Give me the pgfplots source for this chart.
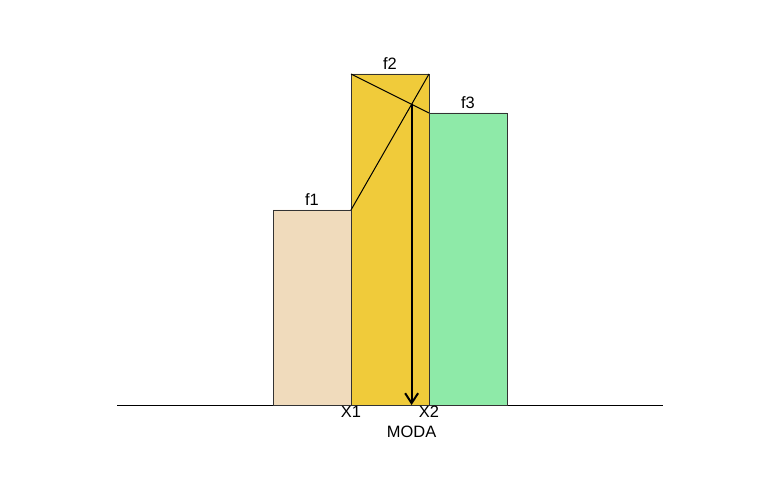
\documentclass[border=0pt]{standalone}
\usepackage{pgfplots}
\pgfplotsset{compat=1.18}
\usepackage{fontspec}
\setmainfont{Liberation Sans}
\usetikzlibrary{arrows.meta}
\definecolor{cf1}{HTML}{F0DBBC}
\definecolor{cf2}{HTML}{F0CB3A}
\definecolor{cf3}{HTML}{8EEAA8}
\begin{document}
\begin{tikzpicture}
\begin{axis}[
  width=780bp, height=493bp, scale only axis,
  xmin=-3.5, xmax=6.5, ymin=-8.8, ymax=40.5,
  hide axis, clip=false,
  font=\fontsize{16.5}{19}\selectfont,
]
\path (rel axis cs:0,0) rectangle (rel axis cs:1,1);
% baseline
\addplot[black, line width=1pt] coordinates {(-2,0) (5,0)};
% bars
\addplot[fill=cf1, draw=black!80, line width=0.9pt] coordinates {(0,0) (0,19.5) (1,19.5) (1,0)} \closedcycle;
\addplot[fill=cf2, draw=black!80, line width=0.9pt] coordinates {(1,0) (1,33.1) (2,33.1) (2,0)} \closedcycle;
\addplot[fill=cf3, draw=black!80, line width=0.9pt] coordinates {(2,0) (2,29.2) (3,29.2) (3,0)} \closedcycle;
% crossing lines
\addplot[black, line width=1pt] coordinates {(1,19.5) (2,33.1)};
\addplot[black, line width=1pt] coordinates {(1,33.1) (2,29.2)};
% arrow to mode
\addplot[black, line width=2pt, -{Straight Barb[length=10pt,width=13pt]}] coordinates {(1.777,30.05) (1.777,0)};
% labels
\node[above, inner sep=4pt] at (axis cs:0.5,19.5) {f1};
\node[above, inner sep=4pt] at (axis cs:1.5,33.1) {f2};
\node[above, inner sep=4pt] at (axis cs:2.5,29.2) {f3};
\node[below, inner sep=1pt] at (axis cs:1,0) {X1};
\node[below, inner sep=1pt] at (axis cs:2,0) {X2};
\node[below, inner sep=1pt] at (axis cs:1.777,-2.0) {MODA};
\end{axis}
\end{tikzpicture}
\end{document}
